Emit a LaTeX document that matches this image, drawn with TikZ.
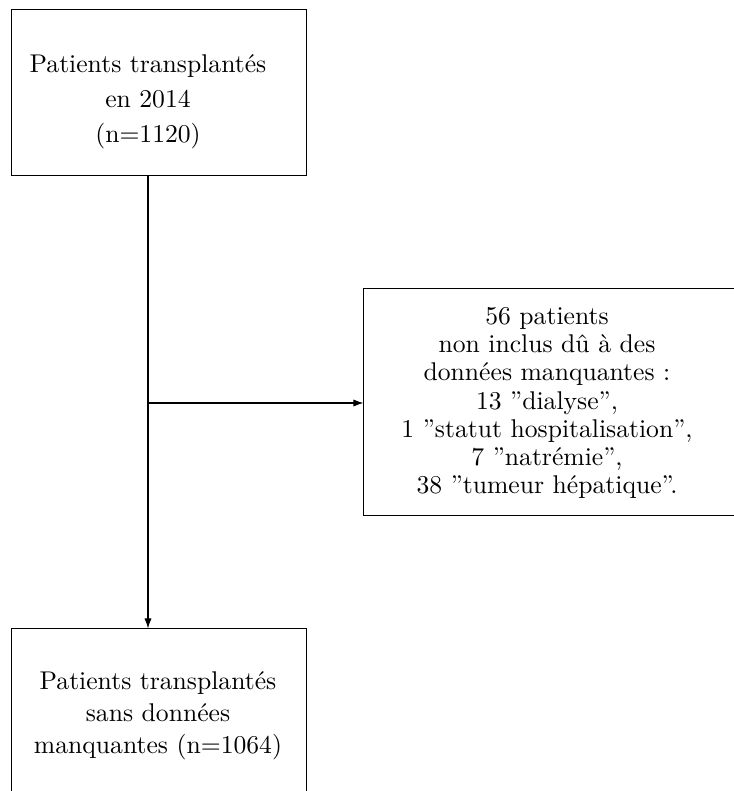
\documentclass[tikz,border=0pt]{standalone}
\usetikzlibrary{arrows.meta}
\begin{document}
\begin{tikzpicture}[x=0.39pt,y=-0.39pt,
    boite/.style={draw,inner sep=0pt},
    texte/.style={align=center,inner sep=0pt},
    fleche/.style={-{Latex[length=3.9pt,width=2.8pt]}}]
    \useasboundingbox (0,0) rectangle (734,791);

    % cadres
    \node[boite,minimum width=115.4pt,minimum height=65.1pt] (debut) at (159,92.5) {};
    \node[boite,minimum width=145.9pt,minimum height=88.9pt] (exclus) at (551,402) {};
    \node[boite,minimum width=115.4pt,minimum height=67.1pt] (fin) at (159,715) {};

    % textes
    \node[texte] (debuttxt) at (148,102)
    {Patients transplantés\\[1.6pt] en 2014\\[1.6pt] (n=1120)};

    \node[texte] (exclustxt) at (547,403)
    {56 patients\\[-1pt] non inclus dû à des\\[-1pt] données manquantes :\\[-1pt]
     13 "dialyse",\\[-1pt] 1 "statut hospitalisation",\\[-1pt] 7 "natrémie",\\[-1pt]
     38 "tumeur hépatique".};

    \node[texte] (fintxt) at (158,716)
    {Patients transplantés\\[0.5pt] sans données\\[0.5pt] manquantes (n=1064)};

    \coordinate (split) at (148,403);

    \draw[fleche] (debut.south -| split) -- (fin.north -| split);
    \draw[fleche] (split) -- (exclus.west |- split);

  \end{tikzpicture}
\end{document}
